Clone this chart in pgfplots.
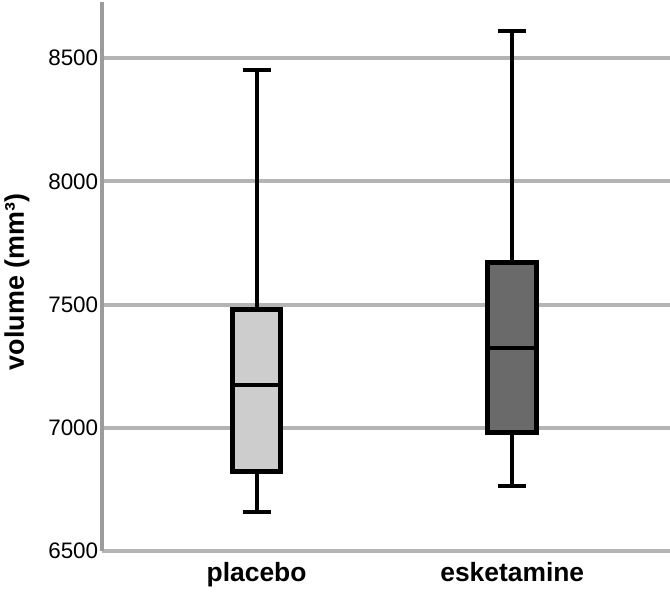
\documentclass[border=0pt]{standalone}
\usepackage{fontspec}
\setmainfont{Liberation Sans}
\usepackage{pgfplots}
\pgfplotsset{compat=1.18}
\definecolor{gridgray}{HTML}{B4B4B4}
\definecolor{axisgray}{HTML}{9C9C9C}
\definecolor{boxlight}{HTML}{CDCDCD}
\definecolor{boxdark}{HTML}{6A6A6A}
\begin{document}
\begin{tikzpicture}
\begin{axis}[
  scale only axis, width=568.3bp, height=549bp,
  at={(101.7bp,41bp)}, anchor=south west,
  xmin=0.394, xmax=2.617, ymin=6500, ymax=8728,
  axis y line*=left, axis x line*=bottom,
  y axis line style={axisgray, line width=4bp, -},
  x axis line style={gridgray, line width=4bp, -},
  xtick={1,2}, xticklabels={placebo, esketamine},
  xticklabel style={font=\bfseries\fontsize{26.5}{30}\selectfont, yshift=-8bp},
  ytick={6500,7000,7500,8000,8500},
  yticklabel style={font=\fontsize{22.5}{26}\selectfont},
  /pgf/number format/assume math mode=true,
  /pgf/number format/1000 sep={},
  major tick length=0,
  ymajorgrids, grid style={gridgray, line width=4bp},
  ylabel={\bfseries volume (mm³)},
  ylabel style={font=\fontsize{27}{30}\selectfont,
    at={(axis description cs:-0.149,0.49)}, anchor=center},
  clip=false,
]
% placebo
\addplot[black, line width=4bp] coordinates {(1,6660) (1,8451)};
\addplot[black, line width=4bp] coordinates {(0.945,6660) (1.055,6660)};
\addplot[black, line width=4bp] coordinates {(0.945,8451) (1.055,8451)};
\addplot[draw=black, fill=boxlight, line width=5bp] coordinates
  {(0.905,6822) (1.095,6822) (1.095,7479) (0.905,7479)} -- cycle;
\addplot[black, line width=4bp] coordinates {(0.905,7174) (1.095,7174)};
% esketamine
\addplot[black, line width=4bp] coordinates {(2,6763) (2,8610)};
\addplot[black, line width=4bp] coordinates {(1.945,6763) (2.055,6763)};
\addplot[black, line width=4bp] coordinates {(1.945,8610) (2.055,8610)};
\addplot[draw=black, fill=boxdark, line width=5bp] coordinates
  {(1.905,6981) (2.095,6981) (2.095,7671) (1.905,7671)} -- cycle;
\addplot[black, line width=4bp] coordinates {(1.905,7325) (2.095,7325)};
\end{axis}
\pgfresetboundingbox
\useasboundingbox (0,0) rectangle (670bp,592bp);
\end{tikzpicture}
\end{document}
